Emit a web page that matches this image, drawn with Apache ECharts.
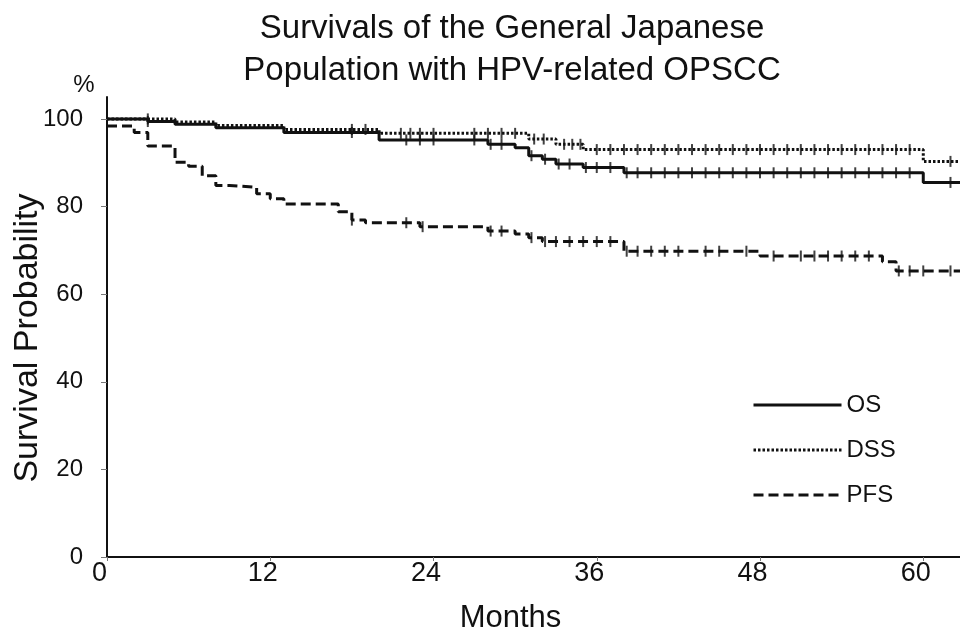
<!DOCTYPE html>
<html>
<head>
<meta charset="utf-8">
<script src="https://cdn.jsdelivr.net/npm/echarts@6/dist/echarts.min.js"></script>
<style>
html,body{margin:0;padding:0;background:#fff;}
#chart{width:960px;height:639px;}
</style>
</head>
<body>
<div id="chart"></div>
<script>
// Kaplan-Meier curves: [month, survival %]
const osCurve = [[0,100],[3,99.4],[5,98.8],[8,98.0],[13,96.9],[20,95.2],[28,94.2],[30,93.4],[31,91.6],[32,90.8],[33,89.7],[35,88.9],[38,87.7],[60,85.5],[62.7,85.5]];
const dssCurve = [[0,100],[5,99.3],[8,98.5],[13,97.6],[20,96.7],[31,95.4],[33,94.2],[35,93.0],[60,90.3],[62.7,90.3]];
const pfsCurve = [[0,98.4],[2,96.9],[3,93.8],[5,90.1],[6,89.2],[7,87.0],[8,84.8],[9,84.4],[11,82.9],[12,81.8],[13,80.6],[17,78.8],[18,76.9],[19,76.3],[23,75.4],[28,74.4],[30,73.7],[31,72.9],[32,72.0],[38,69.8],[48,68.7],[57,67.4],[58,65.3],[62.7,65.3]];

// censoring marks (months)
const osCensor = [3,18,22,23,24,27,28.2,29,31.2,32.2,33.2,34,35.2,36,37,38.2,39,40,41,42,43,44,45,46,47,48,49,50,51,52,53,54,55,56,57,58,59,62];
const dssCensor = [3,18,19,21.6,22.3,23,24,27,28,29,30,31.4,32.1,33.6,34.2,34.8,36,37,38,39,40,41,42,43,44,45,46,47,48,49,50,51,52,53,54,55,56,57,58,59,62];
const pfsCensor = [18,22,23.2,28.2,29,31.2,32.2,33,34,35,36,37,38.2,39,40,41,42,44,45,47,49,51,52,53,54,55,56,58.2,59,60,62];

const seriesNames = ['OS','DSS','PFS'];
const xTicks = [0,12,24,36,48,60];
const yTicks = [0,20,40,60,80,100];
const xMax = 62.7;
const yMax = 105;

function valueAt(curve, t){
  let v = curve[0][1];
  for (const p of curve){ if (p[0] <= t) v = p[1]; }
  return v;
}
function censorPoints(curve, times){ return times.map(t => [t, valueAt(curve, t)]); }

const FONT = "'Liberation Sans', Arial, Helvetica, sans-serif";
const INK = '#111';

const chart = echarts.init(document.getElementById('chart'), null, {renderer:'canvas'});

const lineBase = {type:'line', step:'end', symbol:'none', showSymbol:false, z:3, animation:false};
const censorBase = {type:'scatter', symbol:'rect', symbolSize:[2,11], itemStyle:{color:INK}, z:4, animation:false, silent:true};

chart.setOption({
  animation:false,
  backgroundColor:'#fff',
  title:{
    text:'Survivals of the General Japanese\nPopulation with HPV-related OPSCC',
    left:512, top:8, padding:0, textAlign:'center',
    textStyle:{fontFamily:FONT, fontSize:33, fontWeight:'normal', color:INK, lineHeight:42}
  },
  legend:{
    data:seriesNames,
    orient:'vertical', left:747, top:388,
    itemWidth:88, itemHeight:14, itemGap:21,
    itemStyle:{color:'rgba(0,0,0,0)', borderWidth:0, opacity:0},
    lineStyle:{width:3},
    textStyle:{fontFamily:FONT, fontSize:24, color:INK, lineHeight:24}
  },
  grid:{left:107, right:0, top:97, bottom:78, containLabel:false},
  xAxis:{
    type:'value', min:0, max:xMax, interval:12,
    name:'Months', nameLocation:'middle', nameGap:46,
    nameTextStyle:{fontFamily:FONT, fontSize:31, color:INK, padding:[0,46,0,0]},
    axisLine:{show:true, lineStyle:{color:INK, width:2}},
    axisTick:{show:true, length:4, customValues:xTicks, lineStyle:{color:'#777', width:1}},
    axisLabel:{customValues:xTicks, fontFamily:FONT, fontSize:27, color:INK, margin:3, padding:[0,15,0,0]},
    splitLine:{show:false}
  },
  yAxis:{
    type:'value', min:0, max:yMax, interval:20,
    name:'%', nameLocation:'end', nameGap:0,
    nameTextStyle:{fontFamily:FONT, fontSize:24, color:INK, padding:[0,46,0,0]},
    axisLine:{show:true, lineStyle:{color:INK, width:2}},
    axisTick:{show:true, length:6, customValues:yTicks, lineStyle:{color:'#777', width:1}},
    axisLabel:{customValues:yTicks, fontFamily:FONT, fontSize:24, color:INK, margin:24},
    splitLine:{show:false}
  },
  graphic:[{
    type:'text', x:28, y:338, rotation:Math.PI/2,
    style:{text:'Survival Probability', fontFamily:FONT, fontSize:34, fill:INK, align:'center', verticalAlign:'middle'}
  }],
  series:[
    Object.assign({}, lineBase, {name:seriesNames[0], data:osCurve, lineStyle:{color:INK, width:3, type:'solid'}, itemStyle:{color:INK}}),
    Object.assign({}, lineBase, {name:seriesNames[1], data:dssCurve, lineStyle:{color:INK, width:3, type:[2.5,2]}, itemStyle:{color:INK}}),
    Object.assign({}, lineBase, {name:seriesNames[2], data:pfsCurve, lineStyle:{color:INK, width:3, type:[10,5]}, itemStyle:{color:INK}}),
    Object.assign({}, censorBase, {name:'OS censored', data:censorPoints(osCurve, osCensor)}),
    Object.assign({}, censorBase, {name:'DSS censored', data:censorPoints(dssCurve, dssCensor)}),
    Object.assign({}, censorBase, {name:'PFS censored', data:censorPoints(pfsCurve, pfsCensor)})
  ]
});
</script>
</body>
</html>
